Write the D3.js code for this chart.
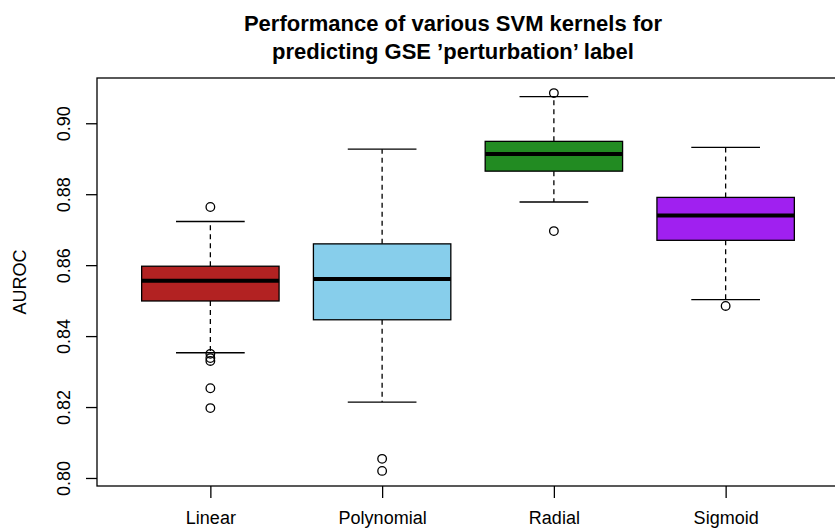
<!DOCTYPE html>
<html>
<head>
<meta charset="utf-8">
<script src="https://cdn.jsdelivr.net/npm/d3@7"></script>
<style>
  body { margin: 0; background: #fff; }
  svg text { font-family: "Liberation Sans", Arial, Helvetica, sans-serif; }
</style>
</head>
<body>
<div class="chart-container"></div>
<script>
// kernels and their boxplot stats
const kernels = ["Linear", "Polynomial", "Radial", "Sigmoid"];
const colors = ["#B22222", "#87CEEB", "#228B22", "#A020F0"];
const lowerWhisker = [0.8353, 0.8214, 0.8778, 0.8503];
const q1 = [0.8499, 0.8446, 0.8865, 0.8670];
const medians = [0.8556, 0.8561, 0.8913, 0.8740];
const q3 = [0.8597, 0.8660, 0.8949, 0.8791];
const upperWhisker = [0.8723, 0.8927, 0.9075, 0.8932];
const outliers = [
    [0.8764, 0.8350, 0.8338, 0.8330, 0.8253, 0.8197],
    [0.8054, 0.8020],
    [0.9085, 0.8696],
    [0.8485]
];
const yTicks = [0.80, 0.82, 0.84, 0.86, 0.88, 0.90];

const width = 835, height = 529;
const margin = {top: 78, left: 97};
const plotW = 742, plotH = 408;

const svg = d3.select(".chart-container")
    .append("svg")
    .attr("width", width)
    .attr("height", height);

// R style range: 4% padding around data
const allVals = lowerWhisker.concat(upperWhisker, outliers.flat());
const yMin = d3.min(allVals), yMax = d3.max(allVals);
const pad = (yMax - yMin) * 0.04;

const yScale = d3.scaleLinear()
    .domain([yMin - pad, yMax + pad])
    .range([margin.top + plotH, margin.top]);

const n = kernels.length;
const xPad = n * 0.04;
const xScale = d3.scaleLinear()
    .domain([0.5 - xPad, n + 0.5 + xPad])
    .range([margin.left, margin.left + plotW]);

const boxW = xScale(0.8) - xScale(0);
const capW = boxW / 2;

// boxes
const g = svg.append("g");
kernels.forEach((k, i) => {
    const cx = xScale(i + 1);
    // whiskers
    g.append("line")
        .attr("x1", cx).attr("x2", cx)
        .attr("y1", yScale(q3[i])).attr("y2", yScale(upperWhisker[i]))
        .attr("stroke", "#000").attr("stroke-width", 1.3)
        .attr("stroke-dasharray", "5,4");
    g.append("line")
        .attr("x1", cx).attr("x2", cx)
        .attr("y1", yScale(q1[i])).attr("y2", yScale(lowerWhisker[i]))
        .attr("stroke", "#000").attr("stroke-width", 1.3)
        .attr("stroke-dasharray", "5,4");
    // caps
    [lowerWhisker[i], upperWhisker[i]].forEach(v => {
        g.append("line")
            .attr("x1", cx - capW / 2).attr("x2", cx + capW / 2)
            .attr("y1", yScale(v)).attr("y2", yScale(v))
            .attr("stroke", "#000").attr("stroke-width", 1.3);
    });
    // box
    g.append("rect")
        .attr("x", cx - boxW / 2)
        .attr("y", yScale(q3[i]))
        .attr("width", boxW)
        .attr("height", yScale(q1[i]) - yScale(q3[i]))
        .attr("fill", colors[i])
        .attr("stroke", "#000").attr("stroke-width", 1.3);
    // median
    g.append("line")
        .attr("x1", cx - boxW / 2).attr("x2", cx + boxW / 2)
        .attr("y1", yScale(medians[i])).attr("y2", yScale(medians[i]))
        .attr("stroke", "#000").attr("stroke-width", 4);
    // outliers
    g.selectAll(null)
        .data(outliers[i])
        .enter()
        .append("circle")
        .attr("cx", cx)
        .attr("cy", d => yScale(d))
        .attr("r", 4.3)
        .attr("fill", "none")
        .attr("stroke", "#000")
        .attr("stroke-width", 1.3);
});

// frame
svg.append("rect")
    .attr("x", margin.left).attr("y", margin.top)
    .attr("width", plotW).attr("height", plotH)
    .attr("fill", "none").attr("stroke", "#000").attr("stroke-width", 1.3);

// y axis
const yAxis = svg.append("g")
    .attr("transform", `translate(${margin.left},0)`)
    .call(d3.axisLeft(yScale).tickValues(yTicks).tickFormat(d3.format(".2f")).tickSize(11).tickSizeOuter(0));
yAxis.select(".domain").remove();
yAxis.selectAll(".tick line").attr("stroke", "#000").attr("stroke-width", 1.3);
yAxis.selectAll(".tick text")
    .attr("transform", "rotate(-90)")
    .attr("x", 0).attr("y", -27).attr("dy", 0)
    .attr("text-anchor", "middle")
    .attr("font-size", 18)
    .attr("fill", "#000");

// x axis
const xAxis = svg.append("g")
    .attr("transform", `translate(0,${margin.top + plotH})`)
    .call(d3.axisBottom(xScale).tickValues(d3.range(1, n + 1)).tickFormat(d => kernels[d - 1]).tickSize(12).tickSizeOuter(0));
xAxis.select(".domain").remove();
xAxis.selectAll(".tick line").attr("stroke", "#000").attr("stroke-width", 1.3);
xAxis.selectAll(".tick text")
    .attr("y", 38).attr("dy", 0)
    .attr("font-size", 18)
    .attr("fill", "#000");

// y label
svg.append("text")
    .attr("transform", `translate(26,${margin.top + plotH / 2}) rotate(-90)`)
    .attr("text-anchor", "middle")
    .attr("font-size", 18)
    .text("AUROC");

// title
const titleLines = ["Performance of various SVM kernels for", "predicting GSE \u2019perturbation\u2019 label"];
svg.selectAll(".title")
    .data(titleLines)
    .enter()
    .append("text")
    .attr("class", "title")
    .attr("x", 453)
    .attr("y", (d, i) => 31 + i * 28)
    .attr("text-anchor", "middle")
    .attr("font-size", 22)
    .attr("font-weight", "bold")
    .text(d => d);
</script>
</body>
</html>
